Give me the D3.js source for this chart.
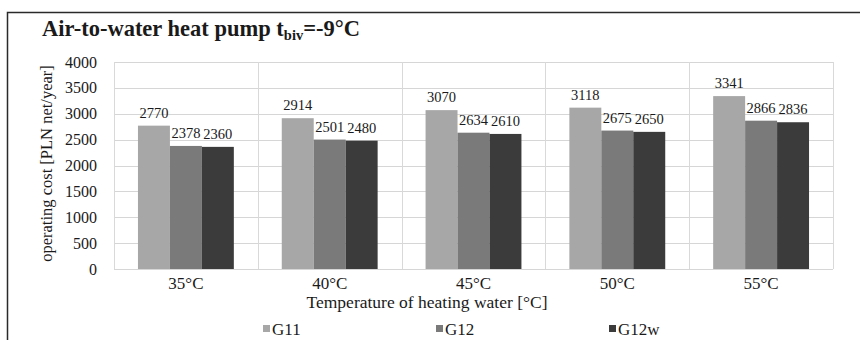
<!DOCTYPE html>
<html>
<head>
<meta charset="utf-8">
<script src="https://cdn.jsdelivr.net/npm/d3@7"></script>
<style>
  body { margin: 0; background: #ffffff; }
  text { font-family: "Liberation Serif", "DejaVu Serif", serif; fill: #1a1a1a; }
</style>
</head>
<body>
<div class="chart"></div>
<script>
let FRAME_WIDTH = 860;
let FRAME_HEIGHT = 340;
let MARGINS = {left: 114, right: 27, top: 62, bottom: 71};

// data
const CATEGORIES = ["35°C", "40°C", "45°C", "50°C", "55°C"];
const SERIES = ["G11", "G12", "G12w"];
const G11 = [2770, 2914, 3070, 3118, 3341];
const G12 = [2378, 2501, 2634, 2675, 2866];
const G12W = [2360, 2480, 2610, 2650, 2836];
const Y_TICKS = [0, 500, 1000, 1500, 2000, 2500, 3000, 3500, 4000];
const COLORS = ["#a7a7a7", "#7a7a7a", "#3b3b3b"];

const VALUES = [G11, G12, G12W];

let PLOT_WIDTH = FRAME_WIDTH - MARGINS.left - MARGINS.right;
let PLOT_HEIGHT = FRAME_HEIGHT - MARGINS.top - MARGINS.bottom;

let FRAME = d3.select(".chart")
              .append("svg")
              .attr("width", FRAME_WIDTH)
              .attr("height", FRAME_HEIGHT);

// outer frame lines (top and left)
FRAME.append("path")
     .attr("d", "M7.5,340 V12.5 H860")
     .attr("fill", "none")
     .attr("stroke", "#2a2a2a")
     .attr("stroke-width", 1.5);

// title with subscript
let TITLE = FRAME.append("text")
     .attr("x", 42)
     .attr("y", 36)
     .style("font-size", "22.5px")
     .style("font-weight", "bold");
TITLE.append("tspan").text("Air-to-water heat pump t");
TITLE.append("tspan").attr("dy", 4).style("font-size", "14.5px").text("biv");
TITLE.append("tspan").attr("dy", -4).text("=-9°C");

const X_SCALE = d3.scaleBand()
                  .domain(CATEGORIES)
                  .range([0, PLOT_WIDTH]);

const X_INNER = d3.scaleBand()
                  .domain(SERIES)
                  .range([0, X_SCALE.bandwidth()])
                  .paddingOuter(0.75)
                  .paddingInner(0);

const Y_SCALE = d3.scaleLinear()
                  .domain([0, 4000])
                  .range([PLOT_HEIGHT, 0]);

let PLOT = FRAME.append("g")
                .attr("transform", "translate(" + MARGINS.left + "," + MARGINS.top + ")");

// horizontal gridlines
PLOT.selectAll(".hgrid")
    .data(Y_TICKS)
    .enter()
    .append("line")
      .attr("x1", 0)
      .attr("x2", PLOT_WIDTH)
      .attr("y1", (d) => Math.round(Y_SCALE(d)) + 0.5)
      .attr("y2", (d) => Math.round(Y_SCALE(d)) + 0.5)
      .attr("stroke", "#d6d6d6")
      .attr("stroke-width", 1.2);

// vertical gridlines between categories
let V_LINES = [0].concat(CATEGORIES.map((c) => X_SCALE(c) + X_SCALE.bandwidth()));
PLOT.selectAll(".vgrid")
    .data(V_LINES)
    .enter()
    .append("line")
      .attr("x1", (d) => Math.round(d) + 0.5)
      .attr("x2", (d) => Math.round(d) + 0.5)
      .attr("y1", Y_SCALE(4000))
      .attr("y2", Y_SCALE(0))
      .attr("stroke", "#d9d9d9")
      .attr("stroke-width", 1);

// bars
let ROWS = [];
CATEGORIES.forEach((c, i) => {
    SERIES.forEach((s, j) => {
        ROWS.push({cat: c, series: s, value: VALUES[j][i], color: COLORS[j]});
    });
});

PLOT.selectAll(".bar")
    .data(ROWS)
    .enter()
    .append("rect")
      .attr("class", "bar")
      .attr("x", (d) => X_SCALE(d.cat) + X_INNER(d.series))
      .attr("y", (d) => Y_SCALE(d.value))
      .attr("width", X_INNER.bandwidth())
      .attr("height", (d) => PLOT_HEIGHT - Y_SCALE(d.value))
      .attr("fill", (d) => d.color);

// value labels
PLOT.selectAll(".val")
    .data(ROWS)
    .enter()
    .append("text")
      .attr("x", (d) => X_SCALE(d.cat) + X_INNER(d.series) + X_INNER.bandwidth() / 2)
      .attr("y", (d) => Y_SCALE(d.value) - 8)
      .attr("text-anchor", "middle")
      .style("font-size", "14.5px")
      .text((d) => d.value);

// y tick labels
PLOT.selectAll(".ytick")
    .data(Y_TICKS)
    .enter()
    .append("text")
      .attr("x", -17)
      .attr("y", (d) => Y_SCALE(d))
      .attr("dy", "0.35em")
      .attr("text-anchor", "end")
      .style("font-size", "16px")
      .text((d) => d);

// x tick labels
PLOT.selectAll(".xtick")
    .data(CATEGORIES)
    .enter()
    .append("text")
      .attr("x", (d) => X_SCALE(d) + X_SCALE.bandwidth() / 2)
      .attr("y", PLOT_HEIGHT + 20)
      .attr("text-anchor", "middle")
      .style("font-size", "17px")
      .text((d) => d);

// x axis title
FRAME.append("text")
     .attr("x", 427)
     .attr("y", 308)
     .attr("text-anchor", "middle")
     .style("font-size", "17.5px")
     .text("Temperature of heating water [°C]");

// y axis title
FRAME.append("text")
     .attr("transform", "translate(52," + (MARGINS.top + PLOT_HEIGHT / 2 - 2) + ") rotate(-90)")
     .attr("text-anchor", "middle")
     .style("font-size", "16.5px")
     .text("operating cost [PLN net/year]");

// legend
const LEGEND_X = d3.scaleOrdinal()
                   .domain(SERIES)
                   .range([263, 436, 609]);

let LEGEND = FRAME.selectAll(".legend")
                  .data(SERIES)
                  .enter()
                  .append("g")
                  .attr("transform", (d) => "translate(" + LEGEND_X(d) + ",329)");

LEGEND.append("rect")
      .attr("x", 0)
      .attr("y", -4)
      .attr("width", 7)
      .attr("height", 7)
      .attr("fill", (d, i) => COLORS[i]);

LEGEND.append("text")
      .attr("x", 9)
      .attr("y", 0)
      .attr("dy", "0.35em")
      .style("font-size", "17px")
      .text((d) => d);
</script>
</body>
</html>
